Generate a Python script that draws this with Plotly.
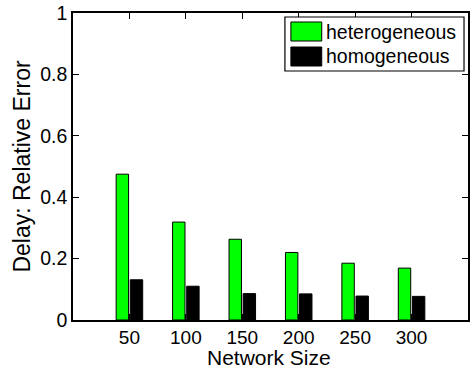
import plotly.graph_objects as go

network_sizes = ["50", "100", "150", "200", "250", "300"]
heterogeneous = [0.475, 0.319, 0.263, 0.220, 0.185, 0.169]
homogeneous = [0.131, 0.110, 0.086, 0.085, 0.078, 0.077]
series_names = ["heterogeneous", "homogeneous"]
series_colors = ["#00ff00", "#000000"]

positions = list(range(1, len(network_sizes) + 1))

W, H = 471, 371
L, R, T, B = 73, 1, 13, 51
FONT = "Liberation Sans, Arial, Helvetica, sans-serif"


def px_x(px):
    return (px - L) / (W - L - R)


def px_y(py):
    return (H - B - py) / (H - T - B)


fig = go.Figure()
for name, vals, col in zip(series_names, [heterogeneous, homogeneous], series_colors):
    fig.add_trace(go.Bar(
        x=positions, y=vals, name=name, showlegend=False,
        marker=dict(color=col, line=dict(color="black", width=1)),
    ))

# legend box drawn as shapes so the colour patches can be large rectangles
shapes = [dict(type="rect", xref="paper", yref="paper",
               x0=px_x(286), x1=px_x(466), y0=px_y(71), y1=px_y(17),
               line=dict(color="black", width=1.2), fillcolor="white", layer="above")]
annotations = []
for i, (name, col) in enumerate(zip(series_names, series_colors)):
    top = 22 + i * 25
    shapes.append(dict(type="rect", xref="paper", yref="paper",
                       x0=px_x(292), x1=px_x(323), y0=px_y(top + 19), y1=px_y(top),
                       line=dict(color="black", width=1), fillcolor=col, layer="above"))
    annotations.append(dict(xref="paper", yref="paper", x=px_x(325), y=px_y(top + 9.5),
                            xanchor="left", yanchor="middle", showarrow=False, text=name,
                            font=dict(family=FONT, size=19.5, color="black")))

# x-axis title placed just under the tick labels
annotations.append(dict(xref="paper", yref="paper", x=px_x(270), y=px_y(357),
                        xanchor="center", yanchor="middle", showarrow=False,
                        text="Network Size", font=dict(family=FONT, size=21, color="black")))

fig.update_layout(
    width=W, height=H,
    margin=dict(l=L, r=R, t=T, b=B),
    paper_bgcolor="white", plot_bgcolor="white",
    barmode="group", bargap=0.5, bargroupgap=0.12,
    font=dict(family=FONT, size=19, color="black"),
    showlegend=False,
    shapes=shapes,
    annotations=annotations,
    xaxis=dict(
        range=[0, 7], tickmode="array", tickvals=positions, ticktext=network_sizes,
        ticks="inside", ticklen=6, tickcolor="black", showline=True, linecolor="black",
        linewidth=1.5, mirror="ticks", showgrid=False, zeroline=False,
        tickfont=dict(size=19), ticklabelstandoff=-1,
    ),
    yaxis=dict(
        range=[0, 1], tickvals=[0, 0.2, 0.4, 0.6, 0.8, 1],
        ticktext=["0", "0.2", "0.4", "0.6", "0.8", "1"],
        ticks="inside", ticklen=6, tickcolor="black", showline=True, linecolor="black",
        linewidth=1.5, mirror="ticks", showgrid=False, zeroline=False,
        tickfont=dict(size=19.5),
        title=dict(text="Delay: Relative Error", font=dict(size=23), standoff=3),
    ),
)

fig.write_html("out.html")
